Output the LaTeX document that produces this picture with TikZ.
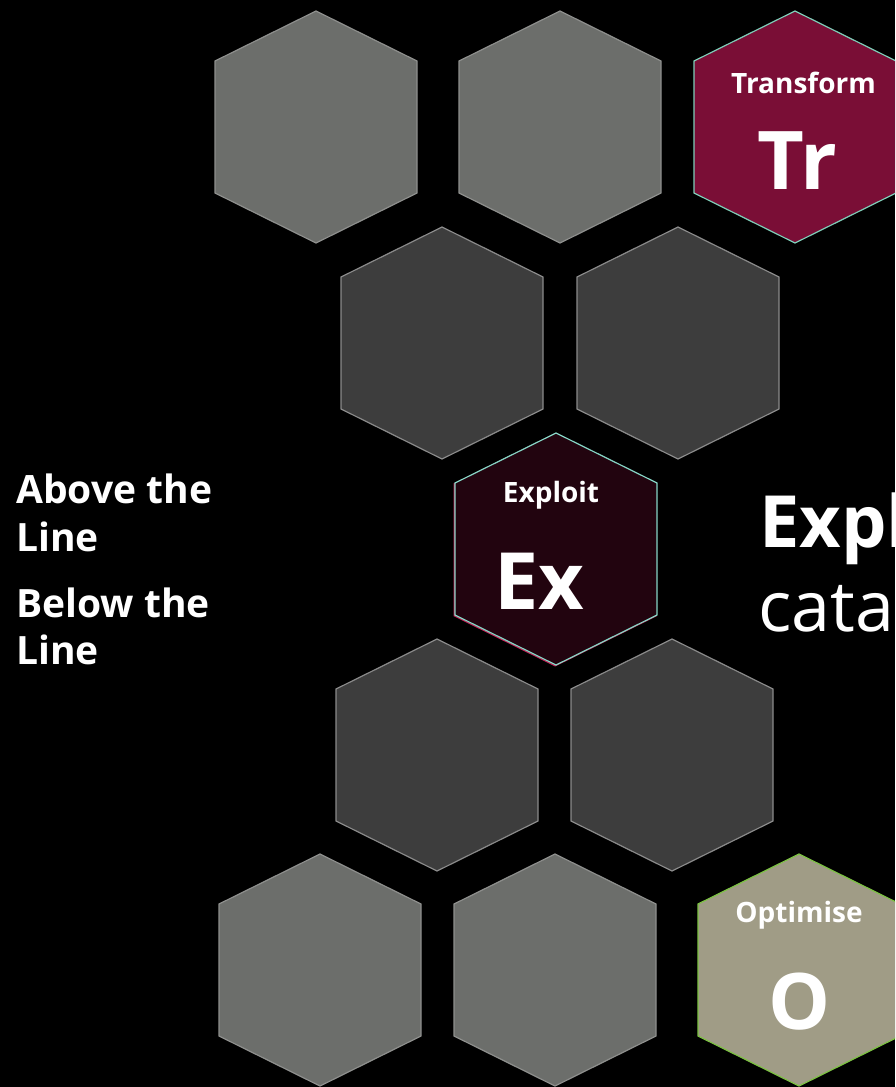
\documentclass[tikz,border=0pt]{standalone}
\usepackage{fontspec}
\setmainfont{Open Sans}
\definecolor{hexlight}{HTML}{6C6E6B}
\definecolor{hexlightedge}{HTML}{8E8F8D}
\definecolor{hexdark}{HTML}{3D3D3D}
\definecolor{hexdarkedge}{HTML}{8A8A8A}
\definecolor{trfill}{HTML}{7A0E36}
\definecolor{tredge}{HTML}{7FCDB8}
\definecolor{exfill}{HTML}{22040F}
\definecolor{exedge}{HTML}{86D6C6}
\definecolor{exred}{HTML}{C8245A}
\definecolor{ofill}{HTML}{A09C86}
\definecolor{oedge}{HTML}{7CC242}
\newcommand\hexpath[3]{%
  \draw[#3] (#1,#2-116) -- (#1+101,#2-66) -- (#1+101,#2+66) -- (#1,#2+116)
    -- (#1-101,#2+66) -- (#1-101,#2-66) -- cycle;}
\tikzset{
  light/.style={fill=hexlight, draw=hexlightedge, line width=1.2pt},
  dark/.style={fill=hexdark, draw=hexdarkedge, line width=1.2pt},
  trhex/.style={fill=trfill, draw=tredge, line width=1.2pt},
  exhex/.style={fill=exfill, draw=exedge, line width=1.2pt},
  exshadow/.style={draw=exred, line width=1.2pt},
  ohex/.style={fill=ofill, draw=oedge, line width=1.2pt},
  small/.style={text=white, font=\bfseries\fontsize{28}{32}\selectfont, inner sep=0pt, anchor=base},
  big/.style={text=white, font=\bfseries\fontsize{79}{90}\selectfont, inner sep=0pt, anchor=base},
  side/.style={text=white, font=\bfseries\fontsize{39}{46}\selectfont, inner sep=0pt, anchor=base west},
}
\begin{document}
\begin{tikzpicture}[x=1pt,y=-1pt]
\fill[black] (0,0) rectangle (895,1087);
\useasboundingbox (0,0) rectangle (895,1087);
\clip (0,0) rectangle (895,1087);
% row 1
\hexpath{316}{127}{light}
\hexpath{560}{127}{light}
\hexpath{795}{127}{trhex}
% row 2
\hexpath{442}{343}{dark}
\hexpath{678}{343}{dark}
% row 3
\hexpath{555.2}{549.8}{exshadow}
\hexpath{556}{549}{exhex}
% row 4
\hexpath{437}{755}{dark}
\hexpath{672}{755}{dark}
% row 5
\hexpath{320}{970}{light}
\hexpath{555}{970}{light}
\hexpath{799}{970}{ohex}
% labels
\node[small] (trname) at (803.5,93) {Transform};
\node[big, font=\bfseries\fontsize{81}{92}\selectfont] (trsym) at (797.5,189) {Tr};
\node[small] (exname) at (551,502) {Exploit};
\node[big] (exsym) at (539,609.5) {Ex};
\node[small] (oname) at (799,922) {Optimise};
\node[big, font=\bfseries\fontsize{78}{90}\selectfont] (osym) at (799.5,1029) {O};
% side text
\node[side] (above1) at (16,503) {Above the};
\node[side] (above2) at (16,551) {Line};
\node[side] (below1) at (16,617) {Below the};
\node[side] (below2) at (16,664) {Line};
% right text
\node[text=white, font=\bfseries\fontsize{72}{84}\selectfont, inner sep=0pt, anchor=base west] (title) at (759,547) {Expl};
\node[text=white, font=\fontsize{70}{82}\selectfont, inner sep=0pt, anchor=base west] (subtitle) at (758,631) {cata};
\end{tikzpicture}
\end{document}
